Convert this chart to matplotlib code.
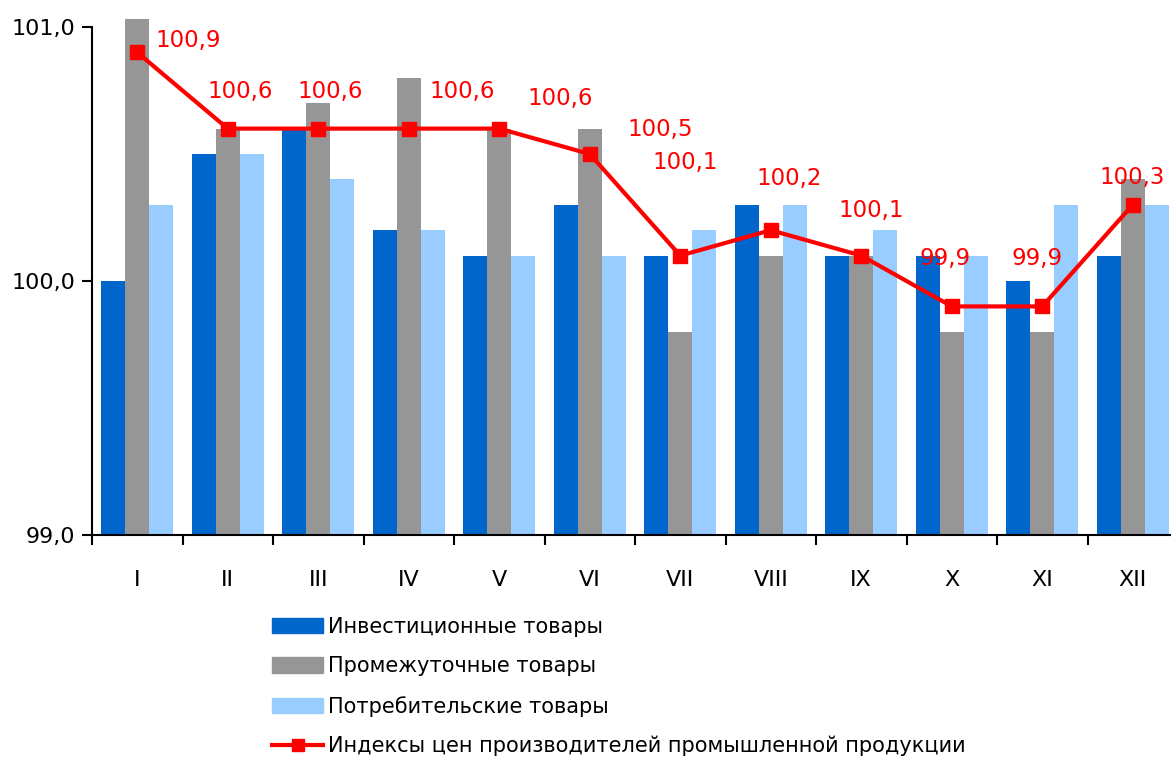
import numpy as np
import matplotlib
matplotlib.use("Agg")
from matplotlib import pyplot as plt
from matplotlib.lines import Line2D
from matplotlib.patches import Patch

months = ["I", "II", "III", "IV", "V", "VI", "VII", "VIII", "IX", "X", "XI", "XII"]
invest = [100.0, 100.5, 100.6, 100.2, 100.1, 100.3, 100.1, 100.3, 100.1, 100.1, 100.0, 100.1]
interm = [101.1, 100.6, 100.7, 100.8, 100.6, 100.6, 99.8, 100.1, 100.1, 99.8, 99.8, 100.4]
consum = [100.3, 100.5, 100.4, 100.2, 100.1, 100.1, 100.2, 100.3, 100.2, 100.1, 100.3, 100.3]
ppi = [100.9, 100.6, 100.6, 100.6, 100.6, 100.5, 100.1, 100.2, 100.1, 99.9, 99.9, 100.3]

# label placement relative to marker, in pixels (dx, dy up)
label_off = [(51, 12), (12, 37), (12, 37), (53, 37), (61, 30), (70, 25),
             (5, 93), (18, 52), (10, 45), (-7, 48), (-5, 48), (-1, 27)]

c_inv = "#0066CC"
c_int = "#969696"
c_con = "#99CCFF"
c_red = "#FF0000"

plt.rcParams['font.family'] = ['DejaVu Sans']

W, H = 1171, 758
fig = plt.figure(figsize=(W / 100, H / 100), dpi=100)
ax = fig.add_axes([92 / W, 1 - 535 / H, 1086 / W, (535 - 19.4) / H])

x = np.arange(len(months))
bw = 0.265
ax.bar(x - bw, [v - 99 for v in invest], bw, bottom=99, color=c_inv, zorder=2)
ax.bar(x, [v - 99 for v in interm], bw, bottom=99, color=c_int, zorder=2)
ax.bar(x + bw, [v - 99 for v in consum], bw, bottom=99, color=c_con, zorder=2)
ax.plot(x, ppi, color=c_red, lw=3, marker="s", markersize=9.5, zorder=3)

for i, v in enumerate(ppi):
    dx, dy = label_off[i]
    ax.annotate(f"{v:.1f}".replace(".", ","), (x[i], v),
                xytext=(dx * 0.72, dy * 0.72), textcoords="offset points",
                ha="center", va="center", color=c_red, fontsize=16.5, zorder=4)

ax.set_xlim(-0.5, len(months) - 0.5)
ax.set_ylim(99, 101.03)
ax.set_yticks([99, 100, 101])
ax.set_yticklabels(["99,0", "100,0", "101,0"], fontsize=16)

ax.set_xticks(np.arange(len(months) + 1) - 0.5)
ax.set_xticklabels([])
ax.set_xticks(x, minor=True)
ax.set_xticklabels(months, minor=True, fontsize=16)
ax.tick_params(axis="x", which="major", direction="out", length=7, width=1.5)
ax.tick_params(axis="x", which="minor", length=0, pad=25)
ax.tick_params(axis="y", direction="out", length=7, width=1.5, pad=5)

for s in ["top", "right"]:
    ax.spines[s].set_visible(False)
ax.spines["left"].set_linewidth(1.5)
ax.spines["bottom"].set_linewidth(1.5)
ax.spines["left"].set_bounds(99, 101)

handles = [Patch(color=c_inv), Patch(color=c_int), Patch(color=c_con),
           Line2D([], [], color=c_red, lw=3, marker="s", markersize=8)]
names = ["Инвестиционные товары", "Промежуточные товары",
         "Потребительские товары",
         "Индексы цен производителей промышленной продукции"]
fig.legend(handles, names, loc="upper left", bbox_to_anchor=(272 / W, 1 - 617 / H),
           frameon=False, fontsize=15, handlelength=2.45, handleheight=0.75,
           handletextpad=0.25, labelspacing=0.93, borderpad=0, borderaxespad=0)

fig.savefig("out.png", dpi=100)
